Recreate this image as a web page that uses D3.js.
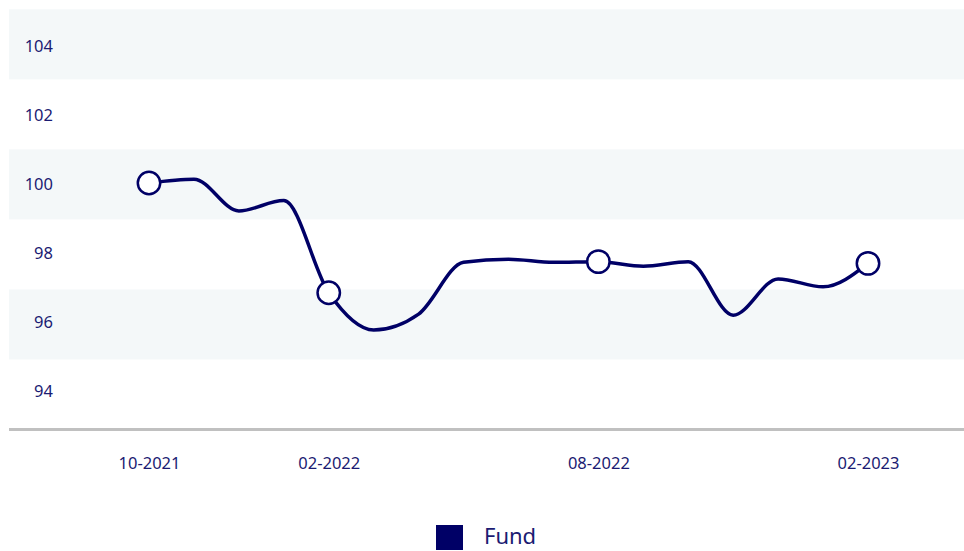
<!DOCTYPE html>
<html>
<head>
<meta charset="utf-8">
<script src="https://cdn.jsdelivr.net/npm/d3@7"></script>
<style>
  html, body { margin: 0; padding: 0; background: #fff; }
  svg { display: block; font-family: "Noto Sans", sans-serif; }
</style>
</head>
<body>
<svg id="chart" width="964" height="551"></svg>
<script>
// Monthly fund index, Oct 2021 – Feb 2023
const months = ["10-2021","11-2021","12-2021","01-2022","02-2022","03-2022","04-2022","05-2022",
                "06-2022","07-2022","08-2022","09-2022","10-2022","11-2022","12-2022","01-2023","02-2023"];
const fundValues = [100.0, 100.11, 99.19, 99.49, 96.82, 95.74, 96.2, 97.7,
                    97.79, 97.7, 97.72, 97.59, 97.72, 96.17, 97.22, 96.99, 97.67];
const xTickLabels = ["10-2021", "02-2022", "08-2022", "02-2023"];
const markerLabels = ["10-2021", "02-2022", "08-2022", "02-2023"];
const yTicks = [104, 102, 100, 98, 96, 94];
const seriesName = "Fund";

const navy = "#000066";
const labelColor = "#1b1b72";
const bandColor = "#f4f8f9";

const svg = d3.select("#chart");
const plot = { left: 9, right: 964, top: 9.3, bottom: 429.5 };

const x = d3.scaleLinear()
  .domain([0, months.length - 1])
  .range([149, 868]);
const y = d3.scaleLinear()
  .domain([93, 105])
  .range([424.5, 10.5]);

// Alternating horizontal bands, one per tick row
const band = d3.scaleBand()
  .domain(yTicks)
  .range([plot.top, plot.bottom]);
svg.append("g").selectAll("rect")
  .data(yTicks.filter((t, i) => i % 2 === 0))
  .join("rect")
  .attr("x", plot.left)
  .attr("width", plot.right - plot.left)
  .attr("y", t => band(t))
  .attr("height", band.bandwidth())
  .attr("fill", bandColor);

// Y axis labels
const yAxis = d3.axisLeft(y).tickValues(yTicks).tickSize(0).tickPadding(0);
const yg = svg.append("g").attr("transform", "translate(53,0)").call(yAxis);
yg.select(".domain").remove();
yg.selectAll("text")
  .attr("fill", labelColor)
  .attr("dy", "0.41em")
  .style("font-size", "16.5px")
  .style("font-family", "'Noto Sans', sans-serif");

// X axis baseline
svg.append("line")
  .attr("x1", plot.left).attr("x2", plot.right)
  .attr("y1", 429.6).attr("y2", 429.6)
  .attr("stroke", "#c0c0c0").attr("stroke-width", 3);

// X axis labels
const xAxis = d3.axisBottom(x)
  .tickValues(xTickLabels.map(l => months.indexOf(l)))
  .tickFormat(i => months[i])
  .tickSize(0).tickPadding(0);
const xg = svg.append("g").attr("transform", "translate(0,469.3)").call(xAxis);
xg.select(".domain").remove();
xg.selectAll("text")
  .attr("fill", labelColor)
  .attr("dy", "0")
  .style("font-size", "16.5px")
  .style("font-family", "'Noto Sans', sans-serif");

// Series line
const line = d3.line()
  .x((d, i) => x(i))
  .y(d => y(d))
  .curve(d3.curveMonotoneX);
svg.append("path")
  .datum(fundValues)
  .attr("d", line)
  .attr("fill", "none")
  .attr("stroke", navy)
  .attr("stroke-width", 3.5)
  .attr("stroke-linejoin", "round");

// Markers at labelled months
svg.append("g").selectAll("circle")
  .data(markerLabels.map(l => months.indexOf(l)))
  .join("circle")
  .attr("cx", i => x(i))
  .attr("cy", i => y(fundValues[i]))
  .attr("r", 11.2)
  .attr("fill", "#fff")
  .attr("stroke", navy)
  .attr("stroke-width", 2.5);

// Legend
const legend = svg.append("g").attr("transform", "translate(436,525)");
legend.append("rect").attr("width", 27).attr("height", 25).attr("fill", navy);
legend.append("text")
  .attr("x", 48).attr("y", 18.5)
  .attr("fill", labelColor)
  .style("font-size", "22px")
  .style("font-family", "'Noto Sans', sans-serif")
  .text(seriesName);
</script>
</body>
</html>
